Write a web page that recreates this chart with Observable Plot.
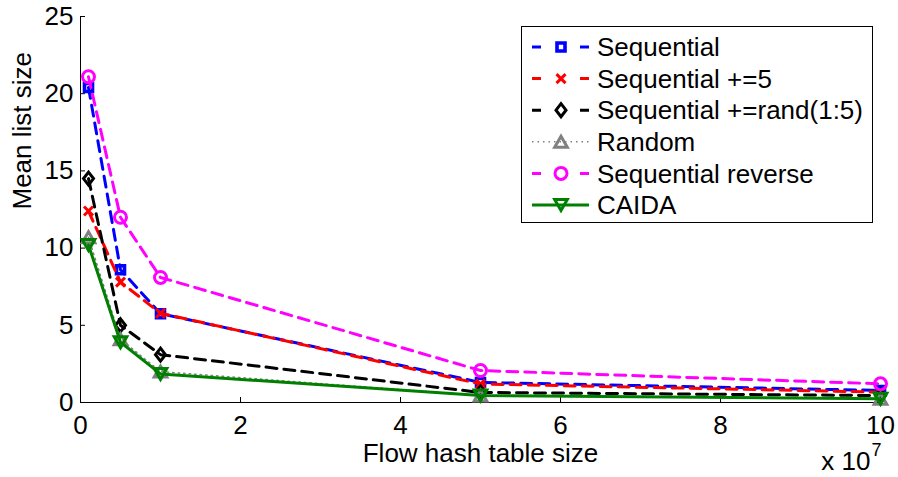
<!DOCTYPE html>
<html>
<head>
<meta charset="utf-8">
<script src="https://cdn.jsdelivr.net/npm/d3@7"></script>
<script src="https://cdn.jsdelivr.net/npm/@observablehq/plot@0.6"></script>
<style>
  html, body { margin: 0; padding: 0; background: #fff; }
  #chart { width: 898px; height: 477px; }
  svg { font-family: "Liberation Sans", Arial, Helvetica, sans-serif; }
</style>
</head>
<body>
<div id="chart"></div>
<script>
// Flow hash table sizes (entries) and mean list size per key pattern
const sizes = [1e6, 5e6, 1e7, 5e7, 1e8];
const sequential        = [20.4, 8.6, 5.75, 1.3, 0.78];
const sequentialPlus5   = [12.4, 7.8, 5.78, 1.2, 0.67];
const sequentialRand    = [14.5, 5.0, 3.1, 0.65, 0.45];
const random            = [10.7, 4.1, 2.0, 0.45, 0.25];
const sequentialReverse = [21.1, 12.0, 8.1, 2.07, 1.21];
const caida             = [10.2, 3.9, 1.85, 0.45, 0.25];

const seriesNames = ["Sequential", "Sequential +=5", "Sequential +=rand(1:5)", "Random", "Sequential reverse", "CAIDA"];
const xTicks = [0, 2e7, 4e7, 6e7, 8e7, 1e8];
const yTicks = [0, 5, 10, 15, 20, 25];

// Marker shapes, sized from the radius implied by the symbol area
const sym = fn => ({draw(ctx, size) { fn(ctx, Math.sqrt(size / Math.PI)); }});
const square = sym((c, r) => { c.rect(-r, -r, 2 * r, 2 * r); });
const times = sym((c, r) => { c.moveTo(-r, -r); c.lineTo(r, r); c.moveTo(-r, r); c.lineTo(r, -r); });
const diamond = sym((c, r) => { c.moveTo(0, -1.3 * r); c.lineTo(r, 0); c.lineTo(0, 1.3 * r); c.lineTo(-r, 0); c.closePath(); });
const triUp = sym((c, r) => { c.moveTo(0, -r); c.lineTo(1.15 * r, r); c.lineTo(-1.15 * r, r); c.closePath(); });
const triDown = sym((c, r) => { c.moveTo(0, r); c.lineTo(1.15 * r, -r); c.lineTo(-1.15 * r, -r); c.closePath(); });
const circle = sym((c, r) => { c.moveTo(r, 0); c.arc(0, 0, r, 0, 2 * Math.PI); });

const values = [sequential, sequentialPlus5, sequentialRand, random, sequentialReverse, caida];
const styles = [
  {color: "#0000ff", dash: "11,7", width: 3, symbol: square, r: 4, sw: 3.6},
  {color: "#ff0000", dash: "11,7", width: 3, symbol: times, r: 4.5, sw: 3},
  {color: "#000000", dash: "11,7", width: 3, symbol: diamond, r: 5, sw: 3},
  {color: "#808080", dash: "1.5,4", width: 1.5, symbol: triUp, r: 5.5, sw: 3},
  {color: "#ff00ff", dash: "11,7", width: 3, symbol: circle, r: 6, sw: 3},
  {color: "#008000", dash: null, width: 3, symbol: triDown, r: 5.5, sw: 3}
];

const rows = seriesNames.flatMap((name, i) =>
  sizes.map((s, j) => ({series: name, i, size: s, value: values[i][j]})));

const seriesMarks = seriesNames.flatMap((name, i) => {
  const d = rows.filter(r => r.i === i);
  const st = styles[i];
  return [
    Plot.line(d, {x: "size", y: "value", stroke: st.color, strokeWidth: st.width,
      strokeDasharray: st.dash, strokeLinejoin: "round"}),
    Plot.dot(d, {x: "size", y: "value", symbol: st.symbol, r: st.r, stroke: st.color,
      strokeWidth: st.sw, fill: "none"})
  ];
});

const W = 898, H = 477, mL = 80, mR = 18, mT = 16, mB = 75;

const chart = Plot.plot({
  width: W, height: H,
  marginLeft: mL, marginRight: mR, marginTop: mT, marginBottom: mB,
  style: {fontFamily: "'Liberation Sans', Arial, Helvetica, sans-serif", fontSize: "26px", color: "#000", background: "#fff"},
  x: {domain: [0, 1e8], label: null},
  y: {domain: [0, 25], label: null},
  marks: [
    Plot.axisX({ticks: xTicks, tickFormat: d => String(d / 1e7), tickSize: 0, tickPadding: 13, fontSize: 26, label: null}),
    Plot.axisY({ticks: yTicks, tickSize: 0, tickPadding: 7, fontSize: 26, label: null}),
    // inward tick marks
    Plot.tickX(xTicks, {x: d => d, insetTop: H - mT - mB - 5, stroke: "#000", strokeWidth: 1}),
    Plot.tickY(yTicks, {y: d => d, insetRight: W - mL - mR - 5, stroke: "#000", strokeWidth: 1}),
    Plot.ruleX([0], {stroke: "#000", strokeWidth: 1}),
    Plot.ruleY([0], {stroke: "#000", strokeWidth: 1}),
    ...seriesMarks,
    Plot.text(["Flow hash table size"], {frameAnchor: "bottom", lineAnchor: "middle", dy: 51, fontSize: 26, fill: "#000"}),
    Plot.text(["Mean list size"], {frameAnchor: "left", dx: -58, rotate: -90, fontSize: 26, fill: "#000"}),
    Plot.text(["x 10"], {frameAnchor: "bottom-right", lineAnchor: "middle", textAnchor: "end", dx: -10, dy: 59, fontSize: 26, fill: "#000"}),
    Plot.text(["7"], {frameAnchor: "bottom-right", lineAnchor: "middle", textAnchor: "start", dx: -9, dy: 48, fontSize: 18, fill: "#000"})
  ]
});

document.getElementById("chart").appendChild(chart);

// Legend box in the upper right of the axes
const svg = d3.select(chart);
const leg = svg.append("g").attr("text-anchor", "start");
leg.append("rect").attr("x", 521.5).attr("y", 26.5).attr("width", 351).attr("height", 196)
  .attr("fill", "#fff").attr("stroke", "#000").attr("stroke-width", 1);
seriesNames.forEach((name, i) => {
  const st = styles[i];
  const y = 47 + i * 31.6;
  const g = leg.append("g").attr("transform", `translate(0,${y})`);
  g.append("line").attr("x1", 532).attr("x2", 589).attr("y1", 0).attr("y2", 0)
    .attr("stroke", st.color).attr("stroke-width", st.width)
    .attr("stroke-dasharray", st.dash ? (i === 3 ? "1.5,4" : "9,39") : null);
  g.append("path").attr("transform", "translate(561,0)")
    .attr("d", d3.symbol(st.symbol, Math.PI * st.r * st.r)())
    .attr("fill", "none").attr("stroke", st.color).attr("stroke-width", st.sw);
  g.append("text").attr("x", 597).attr("y", 0).attr("dy", "0.35em")
    .attr("text-anchor", "start")
    .attr("font-size", 26).attr("fill", "#000").text(name);
});
</script>
</body>
</html>
